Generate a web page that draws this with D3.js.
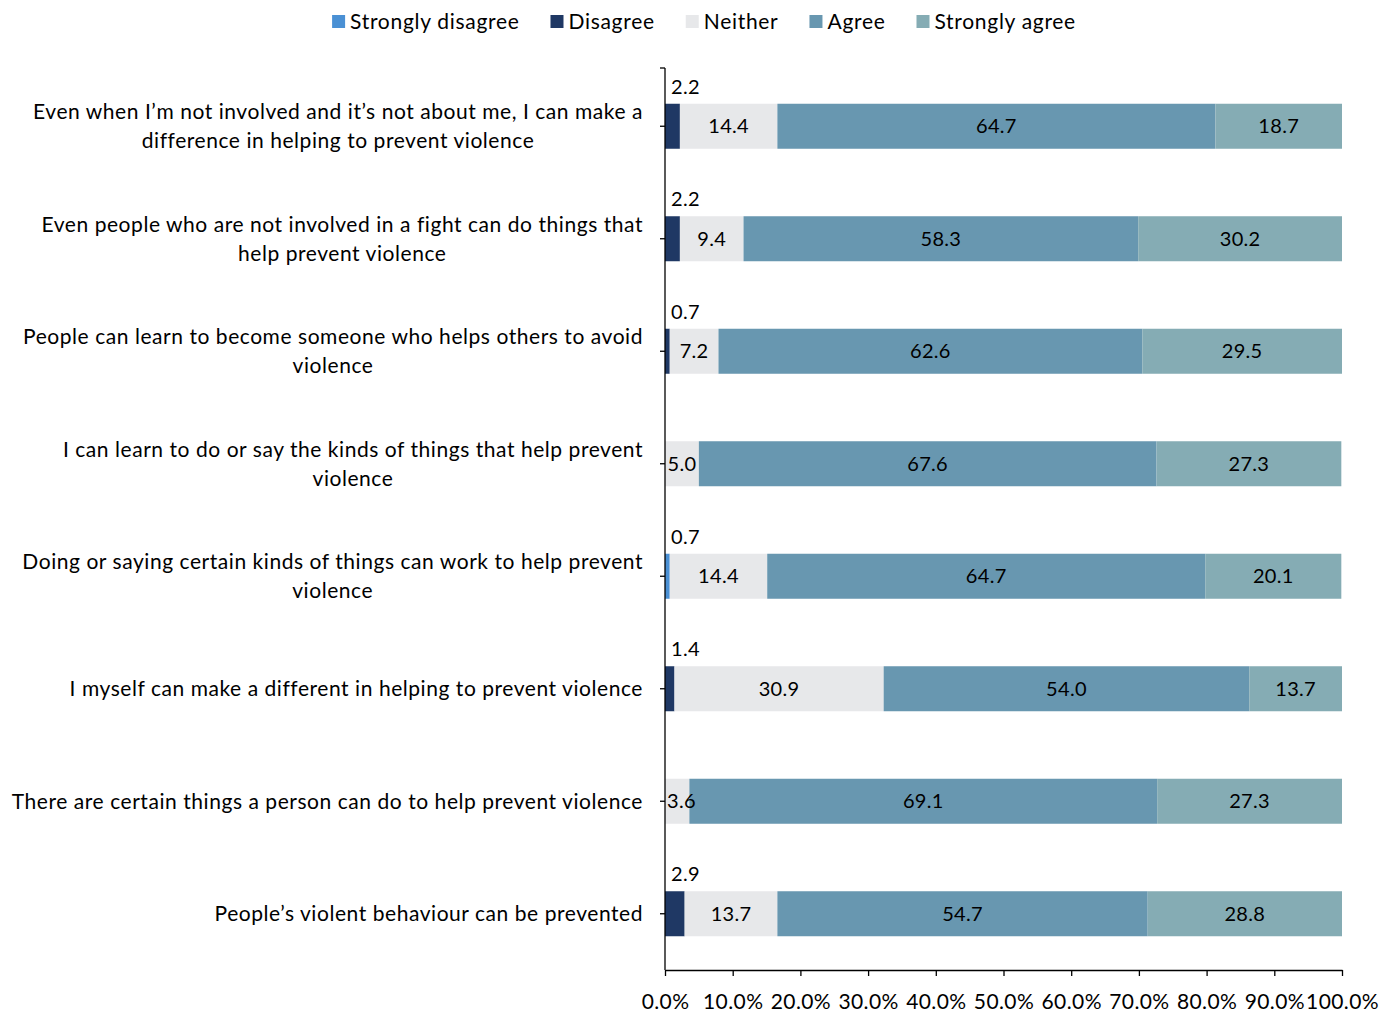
<!DOCTYPE html>
<html>
<head>
<meta charset="utf-8">
<script src="https://cdn.jsdelivr.net/npm/d3@7"></script>
<style>
  html, body { margin: 0; padding: 0; background: #fff; }
  svg text { font-family: Lato, "Open Sans", sans-serif; fill: #000; }
</style>
</head>
<body>
<svg id="chart" width="1394" height="1014"></svg>
<script>
// Statements (top to bottom), split into display lines
const categories = [
  ["Even when I\u2019m not involved and it\u2019s not about me, I can make a", "difference in helping to prevent violence"],
  ["Even people who are not involved in a fight can do things that", "help prevent violence"],
  ["People can learn to become someone who helps others to avoid", "violence"],
  ["I can learn to do or say the kinds of things that help prevent", "violence"],
  ["Doing or saying certain kinds of things can work to help prevent", "violence"],
  ["I myself can make a different in helping to prevent violence"],
  ["There are certain things a person can do to help prevent violence"],
  ["People\u2019s violent behaviour can be prevented"]
];

const seriesNames = ["Strongly disagree", "Disagree", "Neither", "Agree", "Strongly agree"];

// Percentages per statement
const stronglyDisagree = [0, 0, 0, 0, 0.7, 0, 0, 0];
const disagree         = [2.2, 2.2, 0.7, 0, 0, 1.4, 0, 2.9];
const neither          = [14.4, 9.4, 7.2, 5.0, 14.4, 30.9, 3.6, 13.7];
const agree            = [64.7, 58.3, 62.6, 67.6, 64.7, 54.0, 69.1, 54.7];
const stronglyAgree    = [18.7, 30.2, 29.5, 27.3, 20.1, 13.7, 27.3, 28.8];

const xTicks = [0, 10, 20, 30, 40, 50, 60, 70, 80, 90, 100];

const colors = ["#4a90d4", "#1f3864", "#e7e8ea", "#6897b0", "#85acb4"];

const seriesValues = [stronglyDisagree, disagree, neither, agree, stronglyAgree];

const rows = categories.map((c, i) => {
  const r = { idx: i };
  seriesNames.forEach((s, k) => { r[s] = seriesValues[k][i]; });
  return r;
});

const svg = d3.select("#chart");
const W = 1394;
const plotTop = 68, plotBottom = 970;

const x = d3.scaleLinear().domain([0, 100]).range([665, W - 52]).clamp(true);
const y = d3.scaleBand().domain(d3.range(categories.length))
  .range([plotTop + 2, plotBottom]).paddingInner(0.6).paddingOuter(0.3);

const labelFont = 21, labelSpacing = 0.55;

const stack = d3.stack().keys(seriesNames);
const stacked = stack(rows);

// Bars
const g = svg.append("g");
stacked.forEach((layer, k) => {
  g.selectAll(null).data(layer).enter().append("rect")
    .attr("x", d => x(d[0]))
    .attr("y", (d, i) => y(i))
    .attr("width", d => Math.max(0, x(d[1]) - x(d[0])))
    .attr("height", y.bandwidth())
    .attr("fill", colors[k]);
});

// Value labels
stacked.forEach((layer, k) => {
  layer.forEach((d, i) => {
    const v = d[1] - d[0];
    if (v <= 0) return;
    const label = v.toFixed(1);
    const t = svg.append("text")
      .attr("font-size", 20)
      .attr("letter-spacing", 0.3)
      .text(label);
    if (k <= 1) {
      // Small disagreement values sit above the bar's left end
      t.attr("x", x(0) + 6)
        .attr("y", y(i) - 10)
        .attr("text-anchor", "start");
    } else {
      let cx = (x(d[0]) + x(d[1])) / 2;
      const w = t.node().getComputedTextLength();
      if (cx - w / 2 < x(0) + 2) cx = x(0) + 2 + w / 2;
      t.attr("x", cx)
        .attr("y", y(i) + y.bandwidth() / 2)
        .attr("dy", "0.35em")
        .attr("text-anchor", "middle");
    }
  });
});

// X axis
const xAxis = d3.axisBottom(x).tickValues(xTicks).tickFormat(d => d.toFixed(1) + "%")
  .tickSize(6).tickSizeOuter(0);
const xg = svg.append("g").attr("transform", `translate(0,${plotBottom})`).call(xAxis);
xg.select(".domain").attr("stroke", "#000").attr("stroke-width", 1.3);
xg.selectAll(".tick line").attr("stroke", "#000").attr("stroke-width", 1.3);
xg.selectAll(".tick text").attr("font-size", 21).attr("letter-spacing", 0.4)
  .attr("font-family", "Lato, sans-serif")
  .attr("fill", "#000").attr("dy", "1.45em");

// Y axis line with ticks at band centres
svg.append("line")
  .attr("x1", x(0)).attr("x2", x(0))
  .attr("y1", plotTop).attr("y2", plotBottom)
  .attr("stroke", "#000").attr("stroke-width", 1.3);
svg.append("line")
  .attr("x1", x(0) - 5).attr("x2", x(0))
  .attr("y1", plotTop).attr("y2", plotTop)
  .attr("stroke", "#000").attr("stroke-width", 1.3);
categories.forEach((c, i) => {
  const cy = y(i) + y.bandwidth() / 2;
  svg.append("line")
    .attr("x1", x(0) - 5).attr("x2", x(0))
    .attr("y1", cy).attr("y2", cy)
    .attr("stroke", "#000").attr("stroke-width", 1.3);
});

// Category labels
const labelRight = 643;
categories.forEach((lines, i) => {
  const cy = y(i) + y.bandwidth() / 2;
  const lh = 29;
  const t = svg.append("text")
    .attr("font-size", labelFont)
    .attr("letter-spacing", labelSpacing)
    .attr("text-anchor", "middle");
  // Two-line labels: first line right aligned, second centred under it
  if (lines.length === 1) {
    t.attr("text-anchor", "end").attr("x", labelRight).attr("y", cy).attr("dy", "0.35em").text(lines[0]);
  } else {
    const first = t.append("tspan").text(lines[0]).attr("x", labelRight).attr("text-anchor", "end")
      .attr("y", cy - lh / 2).attr("dy", "0.35em");
    const w = first.node().getComputedTextLength();
    t.append("tspan").text(lines[1]).attr("x", labelRight - w / 2).attr("text-anchor", "middle")
      .attr("y", cy + lh / 2).attr("dy", "0.35em");
  }
});

// Legend
const legendItems = seriesNames.map((s, k) => ({ name: s, color: colors[k] }));
const legend = svg.append("g");
let lx = 0;
legendItems.forEach((it, k) => {
  const item = legend.append("g").attr("transform", `translate(${lx},0)`);
  item.append("rect").attr("x", 0).attr("y", 15).attr("width", 13).attr("height", 13).attr("fill", it.color);
  const t = item.append("text").attr("x", 18).attr("y", 22).attr("dy", "0.35em")
    .attr("font-size", labelFont).attr("letter-spacing", 0.7).text(it.name);
  lx += 18 + t.node().getComputedTextLength() + 31;
});
const legendWidth = lx - 31;
legend.attr("transform", `translate(${(336 + 1072) / 2 - legendWidth / 2},0)`);
</script>
</body>
</html>
